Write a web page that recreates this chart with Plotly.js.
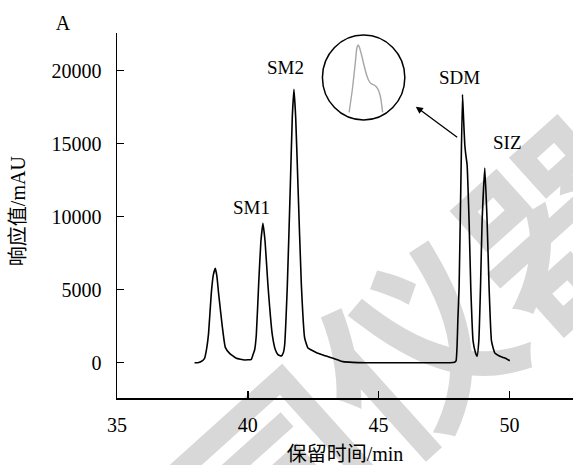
<!DOCTYPE html>
<html><head><meta charset="utf-8">
<script src="https://cdn.plot.ly/plotly-3.0.1.min.js"></script>
<style>html,body{margin:0;padding:0;background:#fff}</style>
</head><body><div id="chart" style="width:573px;height:465px"></div>
<script>
// Chromatogram
const retentionTime = [37.965,38.09,38.2,38.347,38.43,38.50,38.604,38.68,38.757,38.82,38.883,39.025,39.14,39.304,39.56,39.877,40.134,40.195,40.26,40.325,40.42,40.50,40.578,40.66,40.769,40.937,41.05,41.15,41.28,41.36,41.408,41.511,41.626,41.70,41.764,41.83,41.917,42.047,42.173,42.30,42.43,42.68,43.0,43.26,43.64,44.0,44.53,47.72,47.9,47.96,48.0,48.03,48.076,48.141,48.206,48.25,48.294,48.332,48.382,48.458,48.523,48.611,48.70,48.764,48.83,48.894,48.956,49.059,49.147,49.223,49.315,49.441,49.633,49.8,50.015];
const response = [0,0,60,300,1000,2010,4750,6000,6470,5900,4750,2470,1050,640,300,185,230,530,870,1900,5600,8300,9550,8300,5320,1900,900,550,460,700,1210,5320,12170,16800,18730,16800,12170,5320,1690,1000,870,640,450,300,70,20,0,0,30,120,1200,3000,5120,11970,18360,16600,14930,14250,13560,9690,5120,1470,700,440,1500,5120,9690,13340,9690,5120,1470,665,440,330,137];
// Inset: magnified SDM peak (grey)
const insetTime = [48.159,48.19,48.22,48.234,48.247,48.258,48.28,48.303,48.329,48.347,48.371,48.40,48.425,48.443,48.459,48.469,48.485];
const insetResponse = [1812,7060,13650,16940,17650,17180,15300,12940,10590,9410,8590,8235,7765,7060,5880,4706,1812];
// Peak labels
const peakNames = ['SM1','SM2','SDM','SIZ'];
const peakLabelTime = [40.13,41.45,48.10,49.94];
const peakLabelResp = [10600,20190,19570,15050];
// Ticks
const xTickVals = [35,40,45,50];
const yTickVals = [0,5000,10000,15000,20000];

const SERIF = "'Liberation Serif','Times New Roman','Noto Sans CJK SC',serif";

const traces = [
  {x: retentionTime, y: response, type:'scatter', mode:'lines',
   line:{color:'#000', width:1.6, shape:'spline', smoothing:0.4}, hoverinfo:'skip', showlegend:false},
  {x: insetTime, y: insetResponse, type:'scatter', mode:'lines', xaxis:'x2', yaxis:'y2',
   line:{color:'#a6a6a6', width:1.4, shape:'spline', smoothing:0.4}, hoverinfo:'skip', showlegend:false}
];

const annotations = peakNames.map((n,i)=>({
  x: peakLabelTime[i], y: peakLabelResp[i], xref:'x', yref:'y', text:n, showarrow:false,
  font:{family:SERIF, size:19, color:'#000'}
}));
annotations.push({
  x:46.42, y:17536, ax:48.06, ay:15370, xref:'x', yref:'y', axref:'x', ayref:'y',
  text:'', showarrow:true, arrowhead:2, arrowsize:1.1, arrowwidth:1.3, arrowcolor:'#000'
});
// y-axis title
annotations.push({
  x:-0.217, y:0.512, xref:'paper', yref:'paper', xanchor:'center', yanchor:'middle',
  text:'响应值/mAU', textangle:-90, showarrow:false, font:{family:SERIF, size:20, color:'#000'}
});

const layout = {
  width:573, height:465,
  margin:{l:117, r:0, t:33, b:67},
  paper_bgcolor:'#fff', plot_bgcolor:'rgba(0,0,0,0)',
  font:{family:SERIF, size:20, color:'#000'},
  title:{text:'A', x:63/573, xanchor:'center', y:1-23/465, yanchor:'middle', font:{family:SERIF, size:20, color:'#000'}},
  xaxis:{range:[35,52.43], tickvals:xTickVals, ticks:'inside', ticklen:7, tickwidth:1.5, tickcolor:'#000',
    showline:true, linecolor:'#000', linewidth:1.5, showgrid:false, zeroline:false,
    ticklabelstandoff:8, tickfont:{family:SERIF, size:20},
    title:{text:'保留时间/min', font:{family:SERIF, size:20}, standoff:13}},
  yaxis:{range:[-2420,22585], tickvals:yTickVals, tickformat:'d', ticks:'inside', ticklen:7, tickwidth:1.5, tickcolor:'#000',
    showline:true, linecolor:'#000', linewidth:1.5, showgrid:false, zeroline:false,
    ticklabelstandoff:10, tickfont:{family:SERIF, size:20}},
  xaxis2:{domain:[0.4505,0.6312], range:[47.9,48.7], visible:false, anchor:'y2'},
  yaxis2:{domain:[0.7616,0.9945], range:[0,20000], visible:false, anchor:'x2'},
  shapes:[
    {type:'circle', xref:'paper', yref:'paper', x0:0.4505, x1:0.6312, y0:0.7616, y1:0.9945,
     line:{color:'#000', width:1.5}},
    {type:'rect', xref:'paper', yref:'paper', x0:0.336, x1:1.036, y0:-0.41, y1:0.59, layer:'below',
     line:{width:0}, fillcolor:'rgba(0,0,0,0)',
     label:{text:'同仪器', textangle:-42, textposition:'middle center',
       font:{family:"'Noto Sans CJK SC'", size:190, color:'#d8d8d8', weight:'bold'}}}
  ],
  annotations: annotations
};

Plotly.newPlot('chart', traces, layout, {displayModeBar:false, staticPlot:true});
</script></body></html>
